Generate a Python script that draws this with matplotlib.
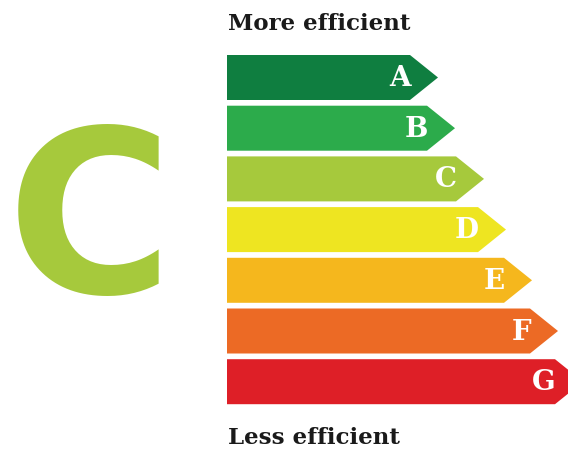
import matplotlib
matplotlib.use("Agg")
import matplotlib.pyplot as plt
from matplotlib.patches import Polygon

# data
categories = ["A", "B", "C", "D", "E", "F", "G"]
bar_lengths = [183, 200, 229, 251, 277, 303, 328]
colors = ["#0f7e40", "#2cab4b", "#a6c93c", "#eee521", "#f5b71d", "#ec6a25", "#de1f27"]
current_rating = "C"
top_label = "More efficient"
bottom_label = "Less efficient"

fig = plt.figure(figsize=(5.68, 4.5), dpi=100)
ax = fig.add_axes([0, 0, 1, 1])
ax.set_xlim(0, 568)
ax.set_ylim(450, 0)
ax.axis("off")

x0 = 227
row0 = 77.5
step = 50.7
half_h = 22.5
tip = 28

for i, (cat, length, col) in enumerate(zip(categories, bar_lengths, colors)):
    yc = row0 + i * step
    xe = x0 + length
    verts = [(x0, yc - half_h), (xe, yc - half_h), (xe + tip, yc),
             (xe, yc + half_h), (x0, yc + half_h)]
    ax.add_patch(Polygon(verts, closed=True, facecolor=col, edgecolor="none"))
    ax.text(xe + 1, yc + 1, cat, ha="right", va="center", color="white",
            fontsize=20, fontweight="bold", family="DejaVu Serif")

ax.text(228, 24, top_label, ha="left", va="center", fontsize=16.5,
        fontweight="bold", family="DejaVu Serif", color="#1a1a1a")
ax.text(228, 438, bottom_label, ha="left", va="center", fontsize=16.5,
        fontweight="bold", family="DejaVu Serif", color="#1a1a1a")

ci = categories.index(current_rating)
ax.text(90, 230, current_rating, ha="center", va="center", fontsize=163,
        color=colors[ci], family="DejaVu Sans", fontweight="bold")

fig.savefig("out.png", dpi=100)
